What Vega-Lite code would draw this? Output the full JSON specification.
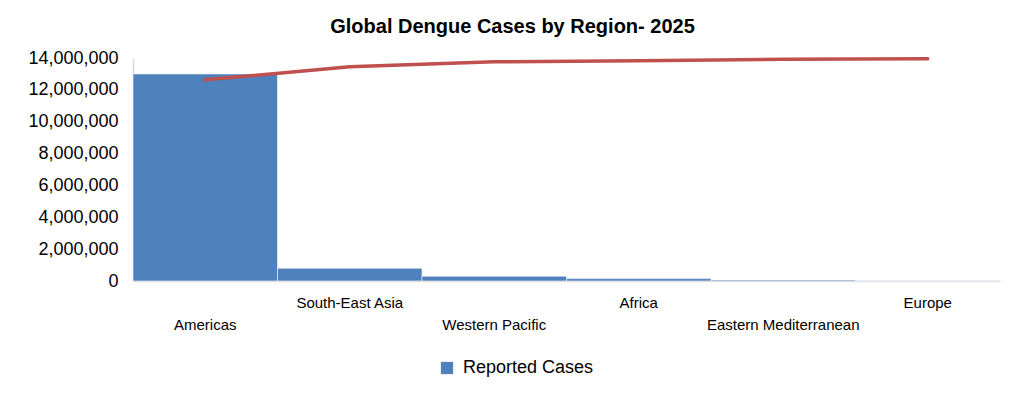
{
  "$schema": "https://vega.github.io/schema/vega-lite/v6.json",
  "autosize": {"type": "none"},
  "padding": {"left": 133, "top": 58, "right": 24, "bottom": 121},
  "width": 867,
  "height": 223,
  "title": {
    "text": "Global Dengue Cases by Region- 2025",
    "font": "Liberation Sans",
    "fontSize": 20,
    "fontWeight": "bold",
    "color": "black",
    "anchor": "middle",
    "dx": -54,
    "offset": 12
  },
  "data": {
    "values": [
      {"Region": "Americas", "Cases": 13000000, "CumPct": 90.2},
      {"Region": "South-East Asia", "Cases": 800000, "CumPct": 96.1},
      {"Region": "Western Pacific", "Cases": 300000, "CumPct": 98.3},
      {"Region": "Africa", "Cases": 150000, "CumPct": 98.8},
      {"Region": "Eastern Mediterranean", "Cases": 55000, "CumPct": 99.4},
      {"Region": "Europe", "Cases": 8000, "CumPct": 99.7}
    ]
  },
  "encoding": {
    "x": {
      "field": "Region",
      "type": "nominal",
      "sort": null,
      "scale": {"paddingInner": 0, "paddingOuter": 0},
      "axis": {
        "title": null,
        "labelAngle": 0,
        "labelFont": "Liberation Sans",
        "labelFontSize": 15,
        "labelColor": "black",
        "labelPadding": 14,
        "labelLineHeight": 22,
        "labelOverlap": false,
        "labelExpr": "indexof(['Americas','Western Pacific','Eastern Mediterranean'], datum.value) >= 0 ? ['', datum.value] : datum.value",
        "ticks": false,
        "domainColor": "#d9d9d9",
        "domainWidth": 1.5
      }
    }
  },
  "layer": [
    {
      "mark": {"type": "bar", "stroke": "#ffffff", "strokeWidth": 0.8, "strokeOpacity": 0.7},
      "encoding": {
        "y": {
          "field": "Cases",
          "type": "quantitative",
          "scale": {"domain": [0, 14000000]},
          "axis": {
            "title": null,
            "values": [0, 2000000, 4000000, 6000000, 8000000, 10000000, 12000000, 14000000],
            "format": ",d",
            "grid": false,
            "ticks": false,
            "labelFont": "Liberation Sans",
            "labelFontSize": 18,
            "labelColor": "black",
            "labelPadding": 15,
            "domainColor": "#d9d9d9",
            "domainWidth": 1.5
          }
        },
        "color": {
          "datum": "Reported Cases",
          "type": "nominal",
          "scale": {"domain": ["Reported Cases"], "range": ["#4F81BD"]},
          "legend": {
            "title": null,
            "orient": "none",
            "legendX": 305,
            "legendY": 301,
            "symbolType": "square",
            "symbolSize": 150,
            "symbolStrokeWidth": 0,
            "labelFont": "Liberation Sans",
            "labelFontSize": 18,
            "labelColor": "black",
            "labelOffset": 7
          }
        }
      }
    },
    {
      "mark": {"type": "line", "color": "#C0504D", "strokeWidth": 3.5, "strokeCap": "round"},
      "encoding": {
        "y": {
          "field": "CumPct",
          "type": "quantitative",
          "scale": {"domain": [0, 100]},
          "axis": null
        }
      }
    }
  ],
  "resolve": {"scale": {"y": "independent"}},
  "config": {"view": {"stroke": null}}
}
